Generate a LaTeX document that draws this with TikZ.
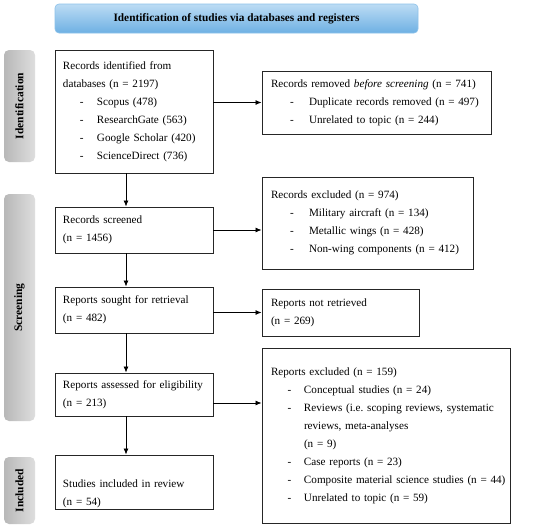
\documentclass[tikz,border=0pt]{standalone}
\usepackage{fontspec}
\setmainfont{Liberation Serif}
\usetikzlibrary{arrows.meta}
\frenchspacing
\newcommand\itm[2][17pt]{\hspace*{#1}\makebox[#1][l]{-}\mbox{#2}}
\definecolor{bantop}{HTML}{BCDCF4}
\definecolor{banbot}{HTML}{6EB0E3}
\definecolor{banline}{HTML}{8DC2EA}
\tikzset{
  txt/.style={font=\fontsize{11.15}{18}\selectfont},
  bx/.style={draw=black!85, line width=0.9pt, align=left, txt, inner ysep=0pt},
  side/.style={rounded corners=5pt, left color=black!28, right color=black!13, draw=none,
     rotate=90, minimum height=31pt, inner sep=0pt, font=\bfseries\fontsize{11.5}{13}\selectfont},
  arr/.style={line width=0.8pt, -{Latex[length=6pt,width=5pt]}}
}
\begin{document}
\begin{tikzpicture}[x=1pt,y=-1pt]
\fill[white] (0,0) rectangle (550,528);
\useasboundingbox (0,0) rectangle (550,528);
% banner
\node[rounded corners=4pt, top color=bantop, bottom color=banbot, draw=banline, line width=0.6pt,
  minimum width=363pt, minimum height=29pt, font=\bfseries\fontsize{11.3}{13}\selectfont] (ban) at (236.5,18.5)
  {Identification of studies via databases and registers};
% side labels
\node[side, minimum width=112pt] (sid) at (19.5,106) {Identification};
\node[side, minimum width=227pt] (sscr) at (19.5,307.5) {Screening};
\node[side, minimum width=67pt] (sinc) at (19.5,490.5) {Included};
% boxes
\node[bx, text width=142pt, inner xsep=8pt, minimum height=123pt] (b1) at (134,111.5)
  {Records identified from\\ databases (n = 2197)\\ \itm{Scopus (478)}\\ \itm{ResearchGate (563)}\\ \itm{Google Scholar (420)}\\ \itm{ScienceDirect (736)}};
\node[bx, text width=211pt, inner xsep=9pt, minimum height=63pt] (b2) at (376.5,102.5)
  {Records removed \textit{before screening} (n = 741)\\ \itm[19pt]{Duplicate records removed (n = 497)}\\ \itm[19pt]{Unrelated to topic (n = 244)}};
\node[bx, text width=142pt, inner xsep=8pt, minimum height=46pt] (b3) at (134,230)
  {Records screened\\ (n = 1456)};
\node[bx, text width=193pt, inner xsep=9pt, minimum height=92pt] (b4) at (367.5,223)
  {Records excluded (n = 974)\\ \itm[19pt]{Military aircraft (n = 134)}\\ \itm[19pt]{Metallic wings (n = 428)}\\ \itm[19pt]{Non-wing components (n = 412)}};
\node[bx, text width=142pt, inner xsep=8pt, minimum height=46pt] (b5) at (134,310)
  {Reports sought for retrieval\\ (n = 482)};
\node[bx, text width=139pt, inner xsep=9pt, minimum height=47pt] (b6) at (340.5,312.5)
  {Reports not retrieved\\ (n = 269)};
\node[bx, text width=142pt, inner xsep=8pt, minimum height=43pt] (b7) at (134,394.5)
  {Reports assessed for eligibility\\ (n = 213)};
\node[bx, text width=230pt, inner xsep=9pt, minimum height=175pt] (b8) at (386,435.5)
  {Reports excluded (n = 159)\\ \itm[16.5pt]{Conceptual studies (n = 24)}\\ \itm[16.5pt]{Reviews (i.e. scoping reviews, systematic}\\ \hspace*{33pt}reviews, meta-analyses\\ \hspace*{33pt}(n = 9)\\ \itm[16.5pt]{Case reports (n = 23)}\\ \itm[16.5pt]{Composite material science studies (n = 44)}\\ \itm[16.5pt]{Unrelated to topic (n = 59)}};
\node[bx, text width=142pt, inner xsep=8pt, minimum height=54pt, text height=31pt] (b9) at (134,482)
  {Studies included in review\\ (n = 54)};
% connectors
\coordinate (vx) at (126,0);
\coordinate (a78) at (213,403);
\draw[arr] (b1.south -| vx) -- (b3.north -| vx);
\draw[arr] (b3.south -| vx) -- (b5.north -| vx);
\draw[arr] (b5.south -| vx) -- (b7.north -| vx);
\draw[arr] (b7.south -| vx) -- (b9.north -| vx);
\draw[arr] (b1.east |- b2.west) -- (b2.west);
\draw[arr] (b3.east) -- (b4.west |- b3.east);
\draw[arr] (b5.east |- b6.west) -- (b6.west);
\draw[arr] (b7.east |- a78) -- (b8.west |- a78);
\end{tikzpicture}
\end{document}
